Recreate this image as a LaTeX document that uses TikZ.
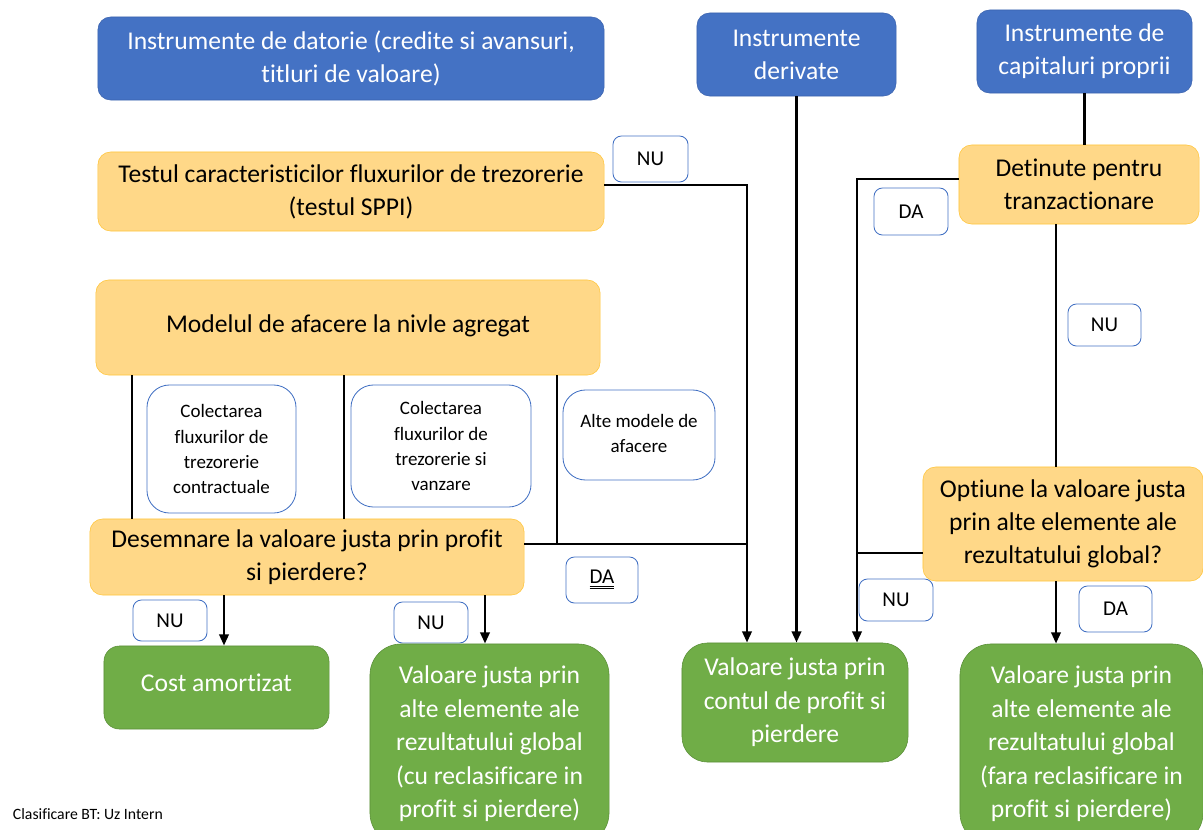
\documentclass[tikz,border=0pt]{standalone}
\usepackage{fontspec}
\setmainfont{Carlito}[Ligatures=NoCommon]
\usetikzlibrary{arrows.meta}
\definecolor{blueBox}{HTML}{4472C4}
\definecolor{blueEdge}{HTML}{3A62AE}
\definecolor{orangeBox}{HTML}{FFD888}
\definecolor{orangeEdge}{HTML}{FFC53A}
\definecolor{greenBox}{HTML}{70AD47}
\definecolor{greenEdge}{HTML}{5A8F38}

\tikzset{
	instr/.style={rectangle, rounded corners=9pt, draw=blueEdge, fill=blueBox, text=white,
		align=center, inner sep=0pt, font=\fontsize{18.2}{23.5}\selectfont},
	test/.style={rectangle, rounded corners=9pt, draw=orangeEdge, fill=orangeBox, text=black,
		align=center, inner sep=0pt, font=\fontsize{18.2}{23.5}\selectfont},
	result/.style={rectangle, rounded corners=18pt, draw=greenEdge, fill=greenBox, text=white,
		align=center, inner sep=0pt, font=\fontsize{18.2}{23.8}\selectfont},
	tag/.style={rectangle, rounded corners=6pt, draw=blueBox, fill=white, semithick,
		inner sep=0pt, font=\fontsize{15}{17}\selectfont},
	info/.style={rectangle, rounded corners=16pt, draw=blueBox, fill=white, semithick,
		align=center, inner sep=0pt, font=\fontsize{13.5}{17.8}\selectfont},
	link/.style={line width=2pt},
	flow/.style={link, -{Triangle[length=8pt,width=6.5pt]}}
}

\begin{document}
\begin{tikzpicture}[x=0.025cm, y=-0.025cm]
	\useasboundingbox (0,0) rectangle (1203,829);
	
	% instrumente
	\node[instr, minimum width=12.65cm, minimum height=2.075cm] (datorie) at (351,58.5)
		{Instrumente de datorie (credite si avansuri,\\titluri de valoare)};
	\node[instr, minimum width=4.975cm, minimum height=2.075cm] (derivate) at (796.5,54.5)
		{Instrumente\\derivate};
	\node[instr, minimum width=5.375cm, minimum height=2.075cm] (capital) at (1084.5,51.5)
		{Instrumente de\\capitaluri proprii};
	
	% teste
	\node[test, minimum width=12.65cm, minimum height=1.975cm] (sppi) at (351,191.5)
		{Testul caracteristicilor fluxurilor de trezorerie\\(testul SPPI)};
	\node[test, minimum width=12.6cm, minimum height=2.375cm] (model) at (348,327.5)
		{\raisebox{6pt}{Modelul de afacere la nivle agregat}};
	\node[test, minimum width=10.85cm, minimum height=1.9cm] (desemn) at (307,557)
		{Desemnare la valoare justa prin profit\\si pierdere?};
	\node[test, minimum width=6cm, minimum height=1.975cm] (detinute) at (1079,184.5)
		{Detinute pentru\\tranzactionare};
	\node[test, minimum width=7cm, minimum height=2.85cm] (optiune) at (1063,524)
		{Optiune la valoare justa\\prin alte elemente ale\\rezultatului global?};
	
	% modele de afacere
	\node[info, minimum width=3.725cm, minimum height=3.2cm] (contract) at (221.5,449)
		{Colectarea\\fluxurilor de\\trezorerie\\contractuale};
	\node[info, minimum width=4.5cm, minimum height=3.05cm] (vanzare) at (441,446)
		{Colectarea\\fluxurilor de\\trezorerie si\\vanzare};
	\node[info, minimum width=3.8cm, minimum height=2.25cm] (alte) at (639,435)
		{\raisebox{8pt}{\begin{tabular}{@{}c@{}}Alte modele de\\afacere\end{tabular}}};
	
	% etichete
	\node[tag, minimum width=1.875cm, minimum height=1.15cm] (nuSppi) at (650.5,159) {NU};
	\node[tag, minimum width=1.85cm, minimum height=1.175cm] (daTranz) at (911,211.5) {DA};
	\node[tag, minimum width=1.825cm, minimum height=1.05cm] (nuTranz) at (1104.5,325) {NU};
	\node[tag, minimum width=1.8cm, minimum height=1.15cm] (daDesemn) at (602,580)
		{\underline{\underline{DA}}};
	\node[tag, minimum width=1.85cm, minimum height=1.05cm] (nuOptiune) at (896,600) {NU};
	\node[tag, minimum width=1.825cm, minimum height=1.15cm] (daOptiune) at (1115.5,609) {DA};
	\node[tag, minimum width=1.85cm, minimum height=1.025cm] (nuCost) at (170,620.5) {NU};
	\node[tag, minimum width=1.85cm, minimum height=1.025cm] (nuCu) at (431,622.5) {NU};
	
	% rezultate
	\node[result, rounded corners=11pt, minimum width=5.625cm, minimum height=2.075cm] (cost) at (216.5,687.5)
		{\raisebox{7pt}{Cost amortizat}};
	\node[result, rounded corners=22pt, minimum width=5.975cm, minimum height=5cm] (cuRecl) at (489.5,744)
		{Valoare justa prin\\alte elemente ale\\rezultatului global\\(cu reclasificare in\\profit si pierdere)};
	\node[result, minimum width=5.65cm, minimum height=2.975cm] (fvpl) at (795,702.5)
		{Valoare justa prin\\contul de profit si\\pierdere};
	\node[result, rounded corners=22pt, minimum width=6.075cm, minimum height=5cm] (faraRecl) at (1081.5,744)
		{Valoare justa prin\\alte elemente ale\\rezultatului global\\(fara reclasificare in\\profit si pierdere)};
	
	\node[anchor=west, font=\fontsize{11.2}{13}\selectfont] (clasif) at (8,814) {Clasificare BT: Uz Intern};
	
	% conexiuni
	\coordinate (kNu) at (747,185);
	\coordinate (kDa) at (747,544);
	\coordinate (kAlte) at (557,375);
	\coordinate (kTranz) at (857,179);
	\coordinate (kOpt) at (857,553);
	\coordinate (bContr) at (132,375);
	\coordinate (bVanz) at (344,375);
	\coordinate (aCost) at (224,595);
	\coordinate (aCu) at (485,595);
	\coordinate (cTranz) at (1056,224);
	
	\draw[flow] (sppi.east |- kNu) -- (kNu) -- (kNu |- fvpl.north);
	\draw[link] (desemn.east |- kDa) -- (kDa);
	\draw[link] (kAlte) -- (kAlte |- kDa);
	\draw[link] (bContr) -- (bContr |- desemn.north);
	\draw[link] (bVanz) -- (bVanz |- desemn.north);
	\draw[flow] (aCost) -- (aCost |- cost.north);
	\draw[flow] (aCu) -- (aCu |- cuRecl.north);
	\draw[flow] (derivate.south) -- (derivate.south |- fvpl.north);
	\draw[link] (capital.south) -- (capital.south |- detinute.north);
	\draw[flow] (detinute.west |- kTranz) -- (kTranz) -- (kTranz |- fvpl.north);
	\draw[link] (cTranz |- detinute.south) -- (cTranz |- optiune.north);
	\draw[link] (optiune.west |- kOpt) -- (kOpt);
	\draw[flow] (cTranz |- optiune.south) -- (cTranz |- faraRecl.north);
\end{tikzpicture}
\end{document}
